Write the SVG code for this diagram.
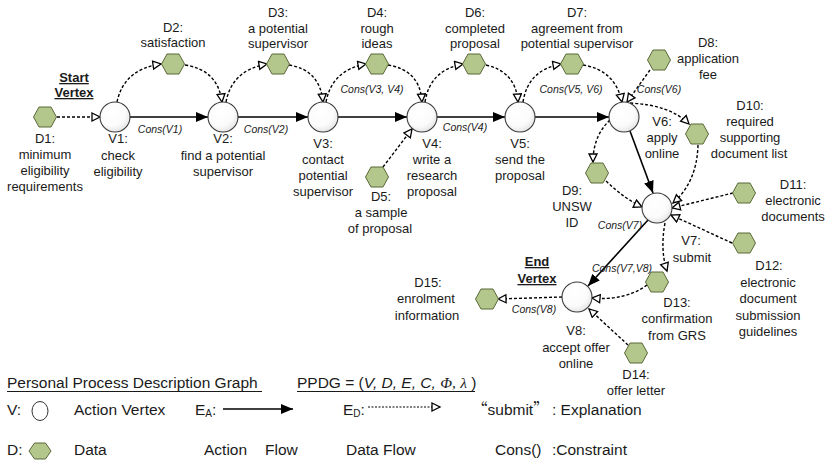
<svg xmlns="http://www.w3.org/2000/svg" width="827" height="462" viewBox="0 0 827 462">
<style>
text{font-family:"Liberation Sans",Arial,sans-serif;fill:#1a1a1a}
.t{font-size:13px;text-anchor:middle}
.c{font-size:10.5px;font-style:italic;text-anchor:middle}
.b{font-size:13px;font-weight:bold;text-anchor:middle;text-decoration:underline}
.lg{font-size:15.5px}
.q{font-family:"Noto Sans CJK SC","Noto Sans CJK JP",sans-serif}
.v{fill:url(#vg);stroke:#3a3a3a;stroke-width:1.1}
.h{fill:#b3c78c;stroke:#5a6838;stroke-width:1}
.af{fill:none;stroke:#000;stroke-width:1.6;marker-end:url(#fa)}
.df{fill:none;stroke:#000;stroke-width:1.4;stroke-dasharray:3 2;marker-end:url(#oa)}
</style>
<defs>
<radialGradient id="vg" cx="0.4" cy="0.35" r="0.75">
<stop offset="0" stop-color="#ffffff"/>
<stop offset="0.6" stop-color="#fbfbfb"/>
<stop offset="1" stop-color="#dedede"/>
</radialGradient>
<path id="hex" d="M-11.5,0 L-6,-10 L6,-10 L11.5,0 L6,10 L-6,10 Z"/>
<marker id="fa" markerUnits="userSpaceOnUse" markerWidth="14" markerHeight="12" refX="12" refY="5" orient="auto">
<path d="M0,0 L12,5 L0,10 Z" fill="#000"/>
</marker>
<marker id="oa" markerUnits="userSpaceOnUse" markerWidth="12" markerHeight="12" refX="9" refY="5" orient="auto">
<path d="M1,1 L9,5 L1,9 Z" fill="#fff" stroke="#000" stroke-width="1.3" stroke-dasharray="none"/>
</marker>
</defs>
<rect width="827" height="462" fill="#fff"/>

<g id="connectors">
<path class="af" d="M130,117 L208,117"/>
<path class="af" d="M238,117 L308,117"/>
<path class="af" d="M338,117 L407,117"/>
<path class="af" d="M437,117 L505,117"/>
<path class="af" d="M535,117 L609,117"/>
<path class="af" d="M630,131 L653,193"/>
<path class="af" d="M648,220 L588,286"/>

<path class="df" d="M57,117 L100,117"/>
<path class="df" d="M117,102 Q124,69 161,64"/>
<path class="df" d="M185,65 Q218,70 222,102"/>
<path class="df" d="M226,102 Q232,70 267,64"/>
<path class="df" d="M289,65 Q320,70 323,102"/>
<path class="df" d="M326,102 Q332,70 366,64"/>
<path class="df" d="M388,65 Q420,70 422,102"/>
<path class="df" d="M383,167 L412,129"/>
<path class="df" d="M425,102 Q430,70 463,64"/>
<path class="df" d="M486,65 Q516,72 518,102"/>
<path class="df" d="M523,102 Q528,70 561,64"/>
<path class="df" d="M583,65 Q615,70 622,102"/>
<path class="df" d="M650,70 L627,102"/>
<path class="df" d="M630,103 Q670,105 689,124"/>
<path class="df" d="M698,145 Q697,182 673,203"/>
<path class="df" d="M610,120 Q593,136 593,162"/>
<path class="df" d="M606,181 Q625,199 642,207"/>
<path class="df" d="M733,193 L672,208"/>
<path class="df" d="M732,243 L671,215"/>
<path class="df" d="M665,223 Q660,250 667,271"/>
<path class="df" d="M647,285 Q625,301 592,298"/>
<path class="df" d="M628,345 L589,309"/>
<path class="df" d="M562,297 L498,299"/>
</g>

<g id="V1"><circle class="v" cx="115" cy="117" r="15"/>
<text class="t" x="118" y="143">V1:</text><text class="t" x="118" y="160">check</text><text class="t" x="118" y="176">eligibility</text></g>
<g id="V2"><circle class="v" cx="223" cy="117" r="15"/>
<text class="t" x="223" y="143">V2:</text><text class="t" x="223" y="160">find a potential</text><text class="t" x="223" y="176">supervisor</text></g>
<g id="V3"><circle class="v" cx="323" cy="117" r="15"/>
<text class="t" x="323" y="148">V3:</text><text class="t" x="323" y="164">contact</text><text class="t" x="323" y="180">potential</text><text class="t" x="323" y="196">supervisor</text></g>
<g id="V4"><circle class="v" cx="422" cy="117" r="15"/>
<text class="t" x="432" y="148">V4:</text><text class="t" x="432" y="164">write a</text><text class="t" x="432" y="180">research</text><text class="t" x="432" y="196">proposal</text></g>
<g id="V5"><circle class="v" cx="520" cy="117" r="15"/>
<text class="t" x="520" y="148">V5:</text><text class="t" x="520" y="164">send the</text><text class="t" x="520" y="180">proposal</text></g>
<g id="V6"><circle class="v" cx="624" cy="117" r="15"/>
<text class="t" x="662" y="126">V6:</text><text class="t" x="662" y="142">apply</text><text class="t" x="662" y="158">online</text></g>
<g id="V7"><circle class="v" cx="657" cy="208" r="15"/>
<text class="t" x="691" y="245">V7:</text><text class="t" x="692" y="262">submit</text></g>
<g id="V8"><circle class="v" cx="577" cy="297" r="15"/>
<text class="t" x="576" y="335">V8:</text><text class="t" x="576" y="352">accept offer</text><text class="t" x="576" y="368">online</text></g>

<g id="D1"><use href="#hex" class="h" x="45" y="117"/>
<text class="t" x="45" y="143">D1:</text><text class="t" x="45" y="159">minimum</text><text class="t" x="45" y="175">eligibility</text><text class="t" x="45" y="191">requirements</text></g>
<g id="D2"><use href="#hex" class="h" x="173" y="64"/>
<text class="t" x="173" y="32">D2:</text><text class="t" x="173" y="47">satisfaction</text></g>
<g id="D3"><use href="#hex" class="h" x="278" y="64"/>
<text class="t" x="278" y="17">D3:</text><text class="t" x="278" y="33">a potential</text><text class="t" x="278" y="48">supervisor</text></g>
<g id="D4"><use href="#hex" class="h" x="377" y="64"/>
<text class="t" x="377" y="17">D4:</text><text class="t" x="377" y="33">rough</text><text class="t" x="377" y="48">ideas</text></g>
<g id="D5"><use href="#hex" class="h" x="377" y="177"/>
<text class="t" x="381" y="201">D5:</text><text class="t" x="381" y="217">a sample</text><text class="t" x="380" y="233">of proposal</text></g>
<g id="D6"><use href="#hex" class="h" x="474" y="64"/>
<text class="t" x="475" y="17">D6:</text><text class="t" x="475" y="33">completed</text><text class="t" x="475" y="48">proposal</text></g>
<g id="D7"><use href="#hex" class="h" x="572" y="64"/>
<text class="t" x="577" y="17">D7:</text><text class="t" x="577" y="33">agreement from</text><text class="t" x="577" y="48">potential supervisor</text></g>
<g id="D8"><use href="#hex" class="h" x="659" y="60"/>
<text class="t" x="708" y="47">D8:</text><text class="t" x="708" y="63">application</text><text class="t" x="708" y="79">fee</text></g>
<g id="D9"><use href="#hex" class="h" x="597" y="173"/>
<text class="t" x="572" y="195">D9:</text><text class="t" x="572" y="211">UNSW</text><text class="t" x="572" y="227">ID</text></g>
<g id="D10"><use href="#hex" class="h" x="697" y="134"/>
<text class="t" x="750" y="110">D10:</text><text class="t" x="750" y="126">required</text><text class="t" x="750" y="142">supporting</text><text class="t" x="749" y="158">document list</text></g>
<g id="D11"><use href="#hex" class="h" x="744" y="193"/>
<text class="t" x="793" y="189">D11:</text><text class="t" x="793" y="205">electronic</text><text class="t" x="793" y="221">documents</text></g>
<g id="D12"><use href="#hex" class="h" x="744" y="243"/>
<text class="t" x="769" y="270">D12:</text><text class="t" x="768" y="287">electronic</text><text class="t" x="768" y="303">document</text><text class="t" x="768" y="320">submission</text><text class="t" x="768" y="336">guidelines</text></g>
<g id="D13"><use href="#hex" class="h" x="657" y="282"/>
<text class="t" x="677" y="307">D13:</text><text class="t" x="677" y="323">confirmation</text><text class="t" x="677" y="340">from GRS</text></g>
<g id="D14"><use href="#hex" class="h" x="636" y="353"/>
<text class="t" x="636" y="379">D14:</text><text class="t" x="636" y="395">offer letter</text></g>
<g id="D15"><use href="#hex" class="h" x="487" y="299"/>
<text class="t" x="428" y="287">D15:</text><text class="t" x="426" y="303">enrolment</text><text class="t" x="427" y="320">information</text></g>

<g id="labels">
<text class="b" x="74" y="82">Start</text>
<text class="b" x="74" y="97">Vertex</text>
<text class="b" x="537" y="266">End</text>
<text class="b" x="537" y="283">Vertex</text>
<text class="c" x="160" y="133">Cons(V1)</text>
<text class="c" x="266" y="133">Cons(V2)</text>
<text class="c" x="372" y="93">Cons(V3, V4)</text>
<text class="c" x="465" y="131">Cons(V4)</text>
<text class="c" x="571" y="93">Cons(V5, V6)</text>
<text class="c" x="659" y="93">Cons(V6)</text>
<text class="c" x="620" y="229">Cons(V7)</text>
<text class="c" x="622" y="272">Cons(V7,V8)</text>
<text class="c" x="534" y="313">Cons(V8)</text>
</g>

<g id="legend">
<text class="lg" x="7" y="388">Personal Process Description Graph</text>
<line x1="7" y1="391.5" x2="262" y2="391.5" stroke="#1a1a1a" stroke-width="1"/>
<text class="lg" x="297" y="388">PPDG = (<tspan font-style="italic">V, D, E, C,</tspan> <tspan font-family="Liberation Serif,serif" font-style="italic">Φ,</tspan>  <tspan font-family="Liberation Serif,serif" font-style="italic">λ</tspan> )</text>
<line x1="297" y1="391.5" x2="475" y2="391.5" stroke="#1a1a1a" stroke-width="1"/>
<text class="lg" x="7" y="415">V:</text>
<ellipse cx="40" cy="411" rx="8" ry="9.5" fill="#fff" stroke="#333" stroke-width="1"/>
<text class="lg" x="74" y="415">Action Vertex</text>
<text class="lg" x="195" y="415">E<tspan font-size="10" dy="2">A</tspan><tspan dy="-2">:</tspan></text>
<path d="M223,409 L293,409" fill="none" stroke="#000" stroke-width="1.6" marker-end="url(#fa)"/>
<text class="lg" x="343" y="415">E<tspan font-size="10" dy="2">D</tspan><tspan dy="-2">:</tspan></text>
<path d="M368,407 L440,407" fill="none" stroke="#000" stroke-width="1.2" stroke-dasharray="2 1.5" marker-end="url(#oa)"/>
<text class="lg" x="472" y="415"><tspan class="q">“</tspan>submit<tspan class="q">”</tspan></text>
<text class="lg" x="552" y="415">: Explanation</text>
<text class="lg" x="7" y="455">D:</text>
<path d="M29,451 L34.5,443 L45.5,443 L51,451 L45.5,459 L34.5,459 Z" class="h"/>
<text class="lg" x="74" y="455">Data</text>
<text class="lg" x="204" y="455" font-size="16.5">Action</text>
<text class="lg" x="265" y="455" font-size="16.5">Flow</text>
<text class="lg" x="346" y="455" font-size="16.5">Data Flow</text>
<text class="lg" x="495" y="455">Cons()</text>
<text class="lg" x="552" y="455">:Constraint</text>
</g>
</svg>
